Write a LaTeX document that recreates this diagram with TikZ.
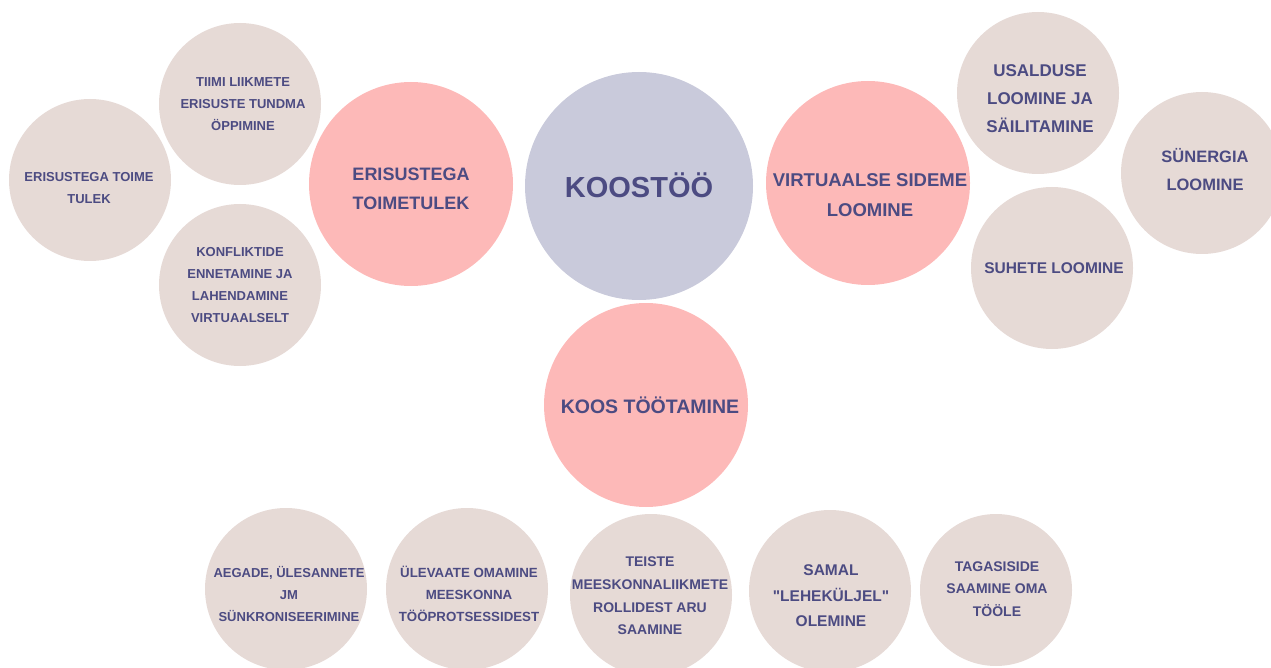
\documentclass[tikz,border=0pt]{standalone}
\usepackage{fontspec}
\setmainfont{Liberation Sans}
% plain face without TeX ligature mapping, for straight double quotes
\newfontface\plainbold{Liberation Sans Bold}
\definecolor{ink}{HTML}{4C4B82}
\definecolor{hub}{HTML}{C9CADB}
\definecolor{topic}{HTML}{FDB9B8}
\definecolor{leaf}{HTML}{E6DAD6}
\tikzset{
  bubble/.style={circle, inner sep=0pt, minimum size=#1},
  hubdisc/.style={bubble=228pt, fill=hub},
  topicdisc/.style={bubble=204pt, fill=topic},
  leafdisc/.style={bubble=162pt, fill=leaf},
  lbl/.style={text=ink, align=center, inner sep=0pt, font=\bfseries\fontsize{#1}{#1}\selectfont},
  lblx/.style n args={2}{text=ink, align=center, inner sep=0pt, font=\bfseries\fontsize{#1}{#2}\selectfont},
}
\newcommand{\sq}{{\plainbold\symbol{34}}}
\begin{document}
\begin{tikzpicture}[x=1pt,y=-1pt]
\useasboundingbox (0,0) rectangle (1271,668);
\clip (0,0) rectangle (1271,668);

% centre
\node[hubdisc] (hub) at (639,186) {};
\node[lbl=29] (hubt) at (639,185) {KOOSTÖÖ};

% main topics
\node[topicdisc] (diff) at (411,184) {};
\node[lblx={18}{29}] (difft) at (411,189) {ERISUSTEGA\\TOIMETULEK};
\node[topicdisc] (virt) at (868,183) {};
\node[lblx={18.5}{30}] (virtt) at (870,195) {VIRTUAALSE SIDEME\\LOOMINE};
\node[topicdisc] (work) at (646,405) {};
\node[lbl=19.5] (workt) at (650,405) {KOOS TÖÖTAMINE};

% left cluster
\node[leafdisc] (l1) at (240,104) {};
\node[lblx={13}{22}] (l1t) at (243,104) {TIIMI LIIKMETE\\ERISUSTE TUNDMA\\ÖPPIMINE};
\node[leafdisc] (l2) at (90,180) {};
\node[lblx={13}{22}] (l2t) at (89,188) {ERISUSTEGA TOIME\\TULEK};
\node[leafdisc] (l3) at (240,285) {};
\node[lblx={13}{22}] (l3t) at (240,285) {KONFLIKTIDE\\ENNETAMINE JA\\LAHENDAMINE\\VIRTUAALSELT};

% right cluster
\node[leafdisc] (r1) at (1038,93) {};
\node[lblx={17}{28}] (r1t) at (1040,99) {USALDUSE\\LOOMINE JA\\SÄILITAMINE};
\node[leafdisc] (r2) at (1202,173) {};
\node[lblx={16.5}{28}] (r2t) at (1205,170) {SÜNERGIA\\LOOMINE};
\node[leafdisc] (r3) at (1052,268) {};
\node[lbl=15.5] (r3t) at (1054,268) {SUHETE LOOMINE};

% bottom row
\node[leafdisc] (b1) at (286,589) {};
\node[lblx={13}{22}] (b1t) at (289,594) {AEGADE, ÜLESANNETE\\JM\\SÜNKRONISEERIMINE};
\node[leafdisc] (b2) at (467,589) {};
\node[lblx={13.3}{22}] (b2t) at (469,594) {ÜLEVAATE OMAMINE\\MEESKONNA\\TÖÖPROTSESSIDEST};
\node[leafdisc] (b3) at (651,595) {};
\node[lblx={14}{22.7}] (b3t) at (650,596) {TEISTE\\MEESKONNALIIKMETE\\ROLLIDEST ARU\\SAAMINE};
\node[leafdisc] (b4) at (830,591) {};
\node[lblx={15.5}{25.5}] (b4t) at (831,596) {SAMAL\\\sq LEHEKÜLJEL\sq\\OLEMINE};
\node[bubble=152pt, fill=leaf] (b5) at (996,590) {};
\node[lblx={14}{22.5}] (b5t) at (997,589) {TAGASISIDE\\SAAMINE OMA\\TÖÖLE};
\end{tikzpicture}
\end{document}
